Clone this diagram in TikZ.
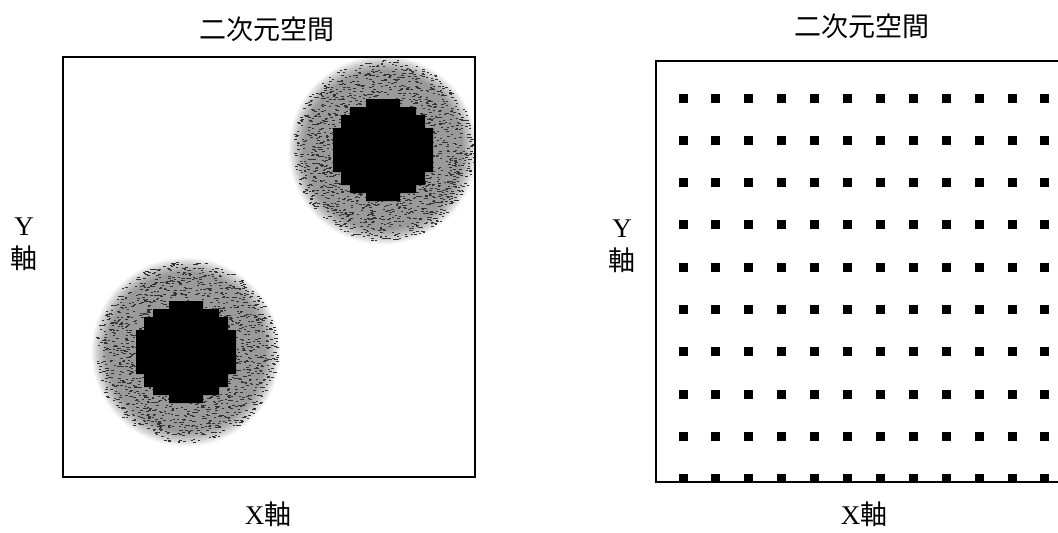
\documentclass[tikz,border=0pt]{standalone}
\usepackage{fontspec}
\setmainfont{Liberation Serif}
\newfontfamily\cjk{Noto Sans CJK JP}
\newcommand{\halobase}[2]{%
  \foreach \rad in {94,92,90,88,86,84,82,80}{%
    \fill[black, opacity=0.06] (#1,#2) circle[radius=\rad];
  }}
\newcommand{\speckle}[2]{%
  \foreach \k in {1,...,1400}{%
    \pgfmathsetmacro{\aa}{360*rnd}%
    \pgfmathsetmacro{\rr}{sqrt(2300+6000*rnd)}%
    \fill[black!80] ([shift={(\aa:\rr)}]#1,#2) rectangle ++(2.5,1);
  }}
\newcommand{\pixcore}[2]{%
  \fill[black, shift={(#1,#2)}] (-17,-51) -- (17,-51) -- (17,-43) -- (33,-43) -- (33,-35) -- (42,-35) -- (42,-22) -- (50,-22) -- (50,22) -- (42,22) -- (42,35) -- (33,35) -- (33,43) -- (17,43) -- (17,51) -- (-17,51) -- (-17,43) -- (-33,43) -- (-33,35) -- (-42,35) -- (-42,22) -- (-50,22) -- (-50,-22) -- (-42,-22) -- (-42,-35) -- (-33,-35) -- (-33,-43) -- (-17,-43) -- cycle;}
\tikzset{
  frame/.style={line width=2.2pt, black},
  lab/.style={font=\fontsize{27pt}{28pt}\selectfont, inner sep=0pt, align=center},
  dot/.style={fill=black, minimum size=9pt, inner sep=0pt, draw=none, rectangle}
}
\begin{document}
\begin{tikzpicture}[x=1pt, y=-1pt]
\useasboundingbox (0,0) rectangle (1058,533);
\clip (0,0) rectangle (1058,533);
\fill[white] (0,0) rectangle (1058,533);
\pgfmathsetseed{11}
% ---------- left panel ----------
\begin{scope}
  \clip (63,57) rectangle (475,477);
  \halobase{186}{352}
  \halobase{383}{150}
  \speckle{186}{352}
  \speckle{383}{150}
  \pixcore{186}{352}
  \pixcore{383}{150}
\end{scope}
\draw[frame] (63,57) rectangle (475,477);
\node[lab] (title1) at (267,29) {\cjk 二次元空間};
\node[lab] (ylab1) at (24,244) {Y\\[5pt]{\cjk 軸}};
\node[lab] (xlab1) at (268,514) {X{\cjk 軸}};
% ---------- right panel ----------
\draw[frame] (1070,61) -- (656,61) -- (656,482) -- (1070,482);
\foreach \i in {0,...,11}{
  \foreach \j in {0,...,9}{
    \node[dot] (d\i-\j) at ({683+32.9*\i},{98+42.3*\j}) {};
  }
}
\node[lab] (title2) at (862,26) {\cjk 二次元空間};
\node[lab] (ylab2) at (622,246) {Y\\[5pt]{\cjk 軸}};
\node[lab] (xlab2) at (864,514) {X{\cjk 軸}};
\end{tikzpicture}
\end{document}
